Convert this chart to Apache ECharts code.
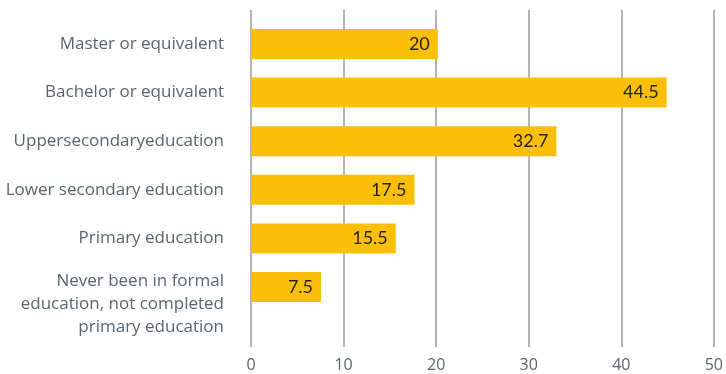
<!DOCTYPE html>
<html>
<head>
<meta charset="utf-8">
<script src="https://cdn.jsdelivr.net/npm/echarts@6/dist/echarts.min.js"></script>
<style>
  html, body { margin: 0; padding: 0; background: #fff; }
  #chart { width: 726px; height: 374px; }
</style>
</head>
<body>
<div id="chart"></div>
<script>
// Education levels, top to bottom
const categories = [
  'Master or equivalent',
  'Bachelor or equivalent',
  'Uppersecondaryeducation',
  'Lower secondary education',
  'Primary education',
  'Never been in formal\neducation, not completed\nprimary education'
];
const shares = [20, 44.5, 32.7, 17.5, 15.5, 7.5];
const xTicks = [0, 10, 20, 30, 40, 50];

const textGrey = '#5a6470';
const gridGrey = '#b3b3b3';
const labelFont = { color: textGrey, fontFamily: 'Open Sans', fontSize: 17, lineHeight: 23 };

const chart = echarts.init(document.getElementById('chart'));
chart.setOption({
  animation: false,
  grid: [
    // frame for the vertical rules and the value ticks
    { left: 251, right: 8, top: 10, bottom: 27 },
    // band area for the bars
    { left: 251, right: 8, top: 19.7, bottom: 62.7 }
  ],
  xAxis: [
    {
      gridIndex: 0, type: 'value', min: xTicks[0], max: xTicks[xTicks.length - 1], interval: 10,
      axisLine: { show: false }, axisTick: { show: false },
      splitLine: { show: true, lineStyle: { color: gridGrey, width: 2 } },
      axisLabel: { color: textGrey, fontFamily: 'Open Sans', fontSize: 16, margin: 10 }
    },
    {
      gridIndex: 1, type: 'value', min: xTicks[0], max: xTicks[xTicks.length - 1], interval: 10,
      show: false, splitLine: { show: false }
    }
  ],
  yAxis: [
    {
      gridIndex: 0, type: 'value', show: false, splitLine: { show: false }
    },
    {
      gridIndex: 1, type: 'category', inverse: true,
      data: categories,
      axisLine: { show: false }, axisTick: { show: false },
      axisLabel: Object.assign({
        interval: 0, hideOverlap: false, margin: 27, align: 'right',
        // the long three-line label hangs below its bar: an empty spacer line pushes it down
        formatter: (v) => {
          const lines = v.split('\n');
          if (lines.length === 1) return '{n|' + v + '}';
          return '{gap| }\n' + lines.map((l) => '{n|' + l + '}').join('\n');
        },
        rich: {
          n: Object.assign({}, labelFont),
          gap: { fontSize: 10, lineHeight: 34 }
        }
      }, labelFont)
    }
  ],
  series: [{
    type: 'bar',
    xAxisIndex: 1, yAxisIndex: 1,
    data: shares,
    barWidth: 30,
    itemStyle: { color: '#fbbf08' },
    label: {
      show: true, position: 'insideRight', distance: 8,
      color: '#231f20', fontFamily: 'Lato', fontSize: 18
    }
  }]
});
</script>
</body>
</html>
